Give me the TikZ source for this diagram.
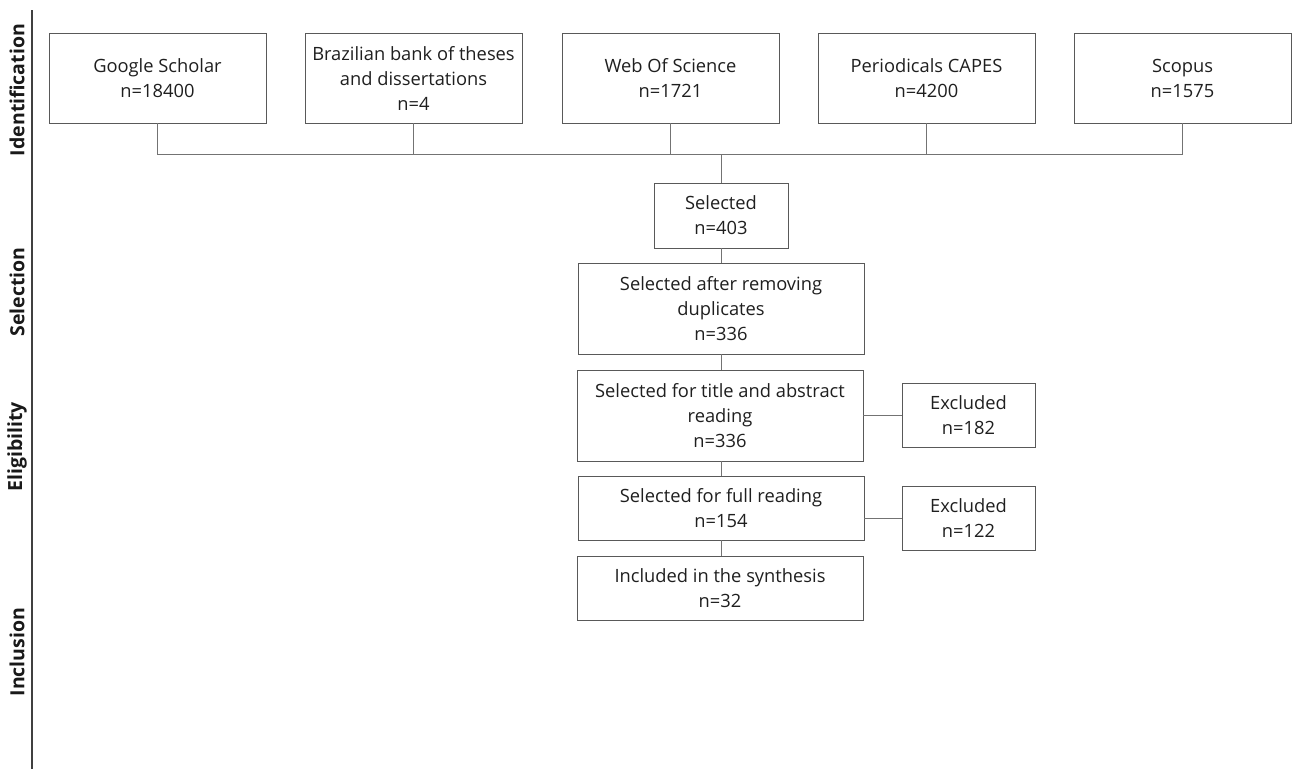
\documentclass[tikz,border=0pt]{standalone}
\usepackage{fontspec}
\setmainfont{Open Sans}
\begin{document}
\begin{tikzpicture}[x=1pt,y=-1pt,
  box/.style={draw=black!65, line width=0.9pt, fill=white, align=center, inner sep=2pt,
    font=\fontsize{18.3}{25}\selectfont, text=black!88},
  link/.style={draw=black!55, line width=1pt},
  phase/.style={rotate=90, font=\fontsize{19.5}{22}\bfseries\selectfont, text=black!90},
  axis/.style={draw=black!75, line width=1.8pt}]
\useasboundingbox (0,0) rectangle (1293,769);
% axis
\coordinate (axt) at (32,10);
\coordinate (axb) at (32,769);
\draw[axis] (axt) -- (axb);
\node[phase] (lid) at (17,90) {Identification};
\node[phase] (lse) at (17,292) {Selection};
\node[phase] (lel) at (17,447) {Eligibility};
\node[phase] (lin) at (17,652) {Inclusion};
% top boxes
\node[box, minimum width=217pt, minimum height=90pt] (gs) at (157.5,78) {Google Scholar\\n=18400};
\node[box, minimum width=217pt, minimum height=90pt] (bb) at (413.5,78) {Brazilian bank of theses\\and dissertations\\n=4};
\node[box, minimum width=217pt, minimum height=90pt] (ws) at (670.5,78) {Web Of Science\\n=1721};
\node[box, minimum width=217pt, minimum height=90pt] (pc) at (926.5,78) {Periodicals CAPES\\n=4200};
\node[box, minimum width=217pt, minimum height=90pt] (sc) at (1182.5,78) {Scopus\\n=1575};
% flow
\node[box, minimum width=134pt, minimum height=65pt] (sel) at (721,215.5) {Selected\\n=403};
\node[box, minimum width=286pt, minimum height=91pt] (dup) at (721,308.5) {Selected after removing\\duplicates\\n=336};
\node[box, minimum width=286pt, minimum height=91pt] (tit) at (720,415.5) {Selected for title and abstract\\reading\\n=336};
\node[box, minimum width=133pt, minimum height=64pt] (ex1) at (968.5,415) {Excluded\\n=182};
\node[box, minimum width=286pt, minimum height=64pt] (full) at (721,508) {Selected for full reading\\n=154};
\node[box, minimum width=133pt, minimum height=64pt] (ex2) at (968.5,518) {Excluded\\n=122};
\node[box, minimum width=286pt, minimum height=64pt] (inc) at (720,588) {Included in the synthesis\\n=32};
% bus
\coordinate (bus) at (721,154);
\coordinate (busl) at (157.5,154);
\coordinate (busr) at (1182.5,154);
\draw[link] (gs.south) -- (busl) -- (busr) -- (sc.south);
\draw[link] (bb.south) -- (bb.south |- bus);
\draw[link] (ws.south) -- (ws.south |- bus);
\draw[link] (pc.south) -- (pc.south |- bus);
\draw[link] (bus) -- (sel.north);
\draw[link] (sel.south) -- (sel.south |- dup.north);
\draw[link] (dup.south) -- (dup.south |- tit.north);
\draw[link] (tit.south -| full.north) -- (full.north);
\draw[link] (full.south) -- (full.south |- inc.north);
\draw[link] (tit.east |- ex1.west) -- (ex1.west);
\draw[link] (full.east |- ex2.west) -- (ex2.west);
\end{tikzpicture}
\end{document}
